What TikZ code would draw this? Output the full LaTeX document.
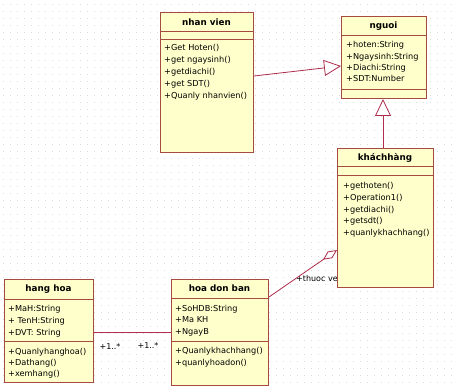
\documentclass[tikz,border=0pt]{standalone}
\usepackage{fontspec}
\setmainfont{DejaVu Sans}
\usetikzlibrary{arrows.meta,calc}
\definecolor{clsfill}{RGB}{255,255,204}
\definecolor{clsborder}{RGB}{165,75,65}
\definecolor{conn}{RGB}{175,45,75}
\definecolor{gridc}{RGB}{220,220,220}
\tikzset{
  cls/.style={draw=clsborder, fill=clsfill, line width=1pt, rectangle, inner sep=0pt, anchor=north west},
  divider/.style={draw=clsborder, line width=1pt},
  title/.style={font=\fontsize{8.8}{10}\selectfont\bfseries, inner sep=0pt, anchor=center},
  member/.style={font=\fontsize{8.2}{10}\selectfont, inner sep=0pt, anchor=base west},
  conline/.style={draw=conn, line width=0.8pt},
  lbl/.style={font=\fontsize{8}{9}\selectfont, inner sep=0pt, anchor=center}
}
\begin{document}
\begin{tikzpicture}[x=1pt,y=-1pt]
\useasboundingbox (0,0) rectangle (457,387);
\fill[white] (0,0) rectangle (457,387);
% faint dotted grid
\foreach \yy in {4,11,...,386} {
  \draw[gridc, line width=0.8pt, dash pattern=on 0.8pt off 6.2pt] (3,\yy) -- (457,\yy);
}
% label behind khachhang box
\node[lbl, anchor=west] (lthuoc) at (296,279) {+thuoc ve};
% classes
\node[cls, minimum width=93pt, minimum height=140pt] (nv) at (160,12) {};
\node[cls, minimum width=85pt, minimum height=82pt] (ng) at (341,16) {};
\node[cls, minimum width=96pt, minimum height=139pt] (kh) at (337,148) {};
\node[cls, minimum width=89pt, minimum height=103pt] (hh) at (4,279) {};
\node[cls, minimum width=97pt, minimum height=106pt] (hd) at (171,279) {};
% dividers
\draw[divider] ($(nv.north west)+(0,20)$) -- ($(nv.north east)+(0,20)$);
\draw[divider] ($(nv.north west)+(0,28)$) -- ($(nv.north east)+(0,28)$);
\draw[divider] ($(ng.north west)+(0,20)$) -- ($(ng.north east)+(0,20)$);
\draw[divider] ($(ng.north west)+(0,74)$) -- ($(ng.north east)+(0,74)$);
\draw[divider] ($(kh.north west)+(0,19)$) -- ($(kh.north east)+(0,19)$);
\draw[divider] ($(kh.north west)+(0,28)$) -- ($(kh.north east)+(0,28)$);
\draw[divider] ($(hh.north west)+(0,20)$) -- ($(hh.north east)+(0,20)$);
\draw[divider] ($(hh.north west)+(0,62)$) -- ($(hh.north east)+(0,62)$);
\draw[divider] ($(hd.north west)+(0,19)$) -- ($(hd.north east)+(0,19)$);
\draw[divider] ($(hd.north west)+(0,62)$) -- ($(hd.north east)+(0,62)$);
% titles
\node[title] (tnv) at (206.5,22) {nhan vien};
\node[title] (tng) at (383.5,26) {nguoi};
\node[title] (tkh) at (385,158) {kháchhàng};
\node[title] (thh) at (48.5,289) {hang hoa};
\node[title] (thd) at (219.5,288.5) {hoa don ban};
% members
\foreach \t [count=\i] in {+Get Hoten(),+get ngaysinh(),+getdiachi(),+get SDT(),+Quanly nhanvien()}
  \node[member] (mnv\i) at (164,{51+(\i-1)*12}) {\t};
\foreach \t [count=\i] in {+hoten:String,+Ngaysinh:String,+Diachi:String,+SDT:Number}
  \node[member] (mng\i) at (346,{48+(\i-1)*11.3}) {\t};
\foreach \t [count=\i] in {+gethoten(),+Operation1(),+getdiachi(),+getsdt(),+quanlykhachhang()}
  \node[member] (mkh\i) at (343,{189+(\i-1)*11.5}) {\t};
\foreach \t [count=\i] in {+MaH:String,+ TenH:String,+DVT: String}
  \node[member] (ahh\i) at (8,{311+(\i-1)*12}) {\t};
\foreach \t [count=\i] in {+Quanlyhanghoa(),+Dathang(),+xemhang()}
  \node[member] (bhh\i) at (8,{354+(\i-1)*11}) {\t};
\foreach \t [count=\i] in {+SoHDB:String,+Ma KH,+NgayB}
  \node[member] (ahd\i) at (175,{311+(\i-1)*11.5}) {\t};
\foreach \t [count=\i] in {+Quanlykhachhang(),+quanlyhoadon()}
  \node[member] (bhd\i) at (175,{353+(\i-1)*12}) {\t};
% connectors
\draw[conline, -{Triangle[open, length=17pt, width=16pt, fill=white]}] ($(nv.north east)+(0,64)$) -- ($(ng.north west)+(0,50)$);
\draw[conline, -{Triangle[open, length=17pt, width=16pt, fill=white]}] ($(kh.north west)+(46,0)$) -- ($(ng.south west)+(42,0)$);
\draw[conline] ($(hh.north east)+(0,53)$) -- ($(hd.north west)+(0,53)$);
\draw[conline, -{Diamond[open, length=17pt, width=8pt, fill=white]}] ($(hd.north east)+(0,18)$) -- ($(kh.north west)+(0,102)$);
% multiplicities
\node[lbl] (m1) at (110,347) {+1..*};
\node[lbl] (m2) at (148,346) {+1..*};
\end{tikzpicture}
\end{document}
